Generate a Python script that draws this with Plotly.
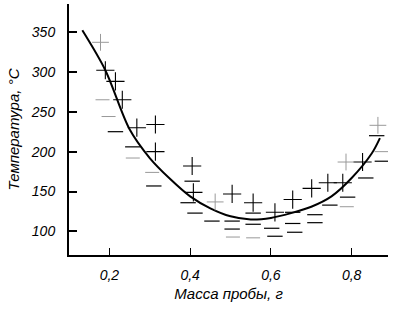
import plotly.graph_objects as go

# Fitted curve
curve_mass = [0.133, 0.19, 0.25, 0.30, 0.35, 0.40, 0.45, 0.50, 0.55, 0.60, 0.65, 0.70, 0.75, 0.80, 0.85, 0.87]
curve_temp = [352, 302, 228, 192, 166, 144, 129, 119, 115, 117, 123, 131, 144, 167, 198, 217]

# "+" measurements
plus_mass = [0.19, 0.215, 0.232, 0.268, 0.314, 0.314, 0.405, 0.408, 0.504, 0.556, 0.61,
             0.654, 0.701, 0.741, 0.778, 0.827]
plus_temp = [302, 288, 265, 230, 234, 200, 182, 149, 147, 136, 124,
             140, 154, 161, 161, 187]
plus_faint_mass = [0.178, 0.462, 0.786, 0.865]
plus_faint_temp = [337, 137, 187, 233]

# "−" measurements
minus_mass = [0.215, 0.258, 0.31, 0.405, 0.395, 0.412, 0.454, 0.504, 0.504, 0.556, 0.556,
              0.602, 0.61, 0.654, 0.654, 0.659, 0.709, 0.709, 0.746, 0.79, 0.835, 0.862, 0.876]
minus_temp = [225, 206, 157, 163, 136, 123, 113, 113, 103, 123, 109,
              104, 94, 124, 110, 99, 121, 111, 133, 143, 167, 220, 188]
minus_faint_mass = [0.183, 0.198, 0.258, 0.306, 0.506, 0.556, 0.788, 0.874]
minus_faint_temp = [265, 244, 192, 174, 93, 92, 131, 200]

x_ticks = [0.2, 0.4, 0.6, 0.8]
x_tick_text = ["0,2", "0,4", "0,6", "0,8"]
y_ticks = [100, 150, 200, 250, 300, 350]

FONT = "Liberation Sans Narrow, Liberation Sans, DejaVu Sans"

fig = go.Figure()

fig.add_trace(go.Scatter(x=curve_mass, y=curve_temp, mode="lines",
                         line=dict(color="black", width=2, shape="spline", smoothing=0.9)))

fig.add_trace(go.Scatter(x=plus_mass, y=plus_temp, mode="markers",
                         marker=dict(symbol="cross-thin", size=13,
                                     line=dict(color="black", width=1.1))))
fig.add_trace(go.Scatter(x=plus_faint_mass, y=plus_faint_temp, mode="markers",
                         marker=dict(symbol="cross-thin", size=12,
                                     line=dict(color="#999", width=1))))
fig.add_trace(go.Scatter(x=minus_mass, y=minus_temp, mode="markers",
                         marker=dict(symbol="line-ew", size=11,
                                     line=dict(color="black", width=1.2))))
fig.add_trace(go.Scatter(x=minus_faint_mass, y=minus_faint_temp, mode="markers",
                         marker=dict(symbol="line-ew", size=10,
                                     line=dict(color="#999", width=1))))

fig.update_layout(
    width=415, height=334,
    margin=dict(l=69, r=27, t=4, b=79),
    plot_bgcolor="white", paper_bgcolor="white",
    showlegend=False,
    font=dict(family=FONT, color="black", size=13, style="italic"),
)

fig.update_xaxes(
    range=[0.1, 0.89], showgrid=False, zeroline=False,
    showline=True, linecolor="black", linewidth=1.5,
    ticks="inside", ticklen=7, tickwidth=1.3, tickcolor="black",
    tickvals=x_ticks, ticktext=x_tick_text, ticklabelstandoff=6,
    tickfont=dict(family=FONT, size=14, style="italic"),
    title=dict(text="Масса пробы, г", standoff=7,
               font=dict(family=FONT, size=15, style="italic")),
)
fig.update_yaxes(
    range=[70.5, 385], showgrid=False, zeroline=False,
    showline=True, linecolor="black", linewidth=2,
    ticks="inside", ticklen=8, tickwidth=1.5, tickcolor="black",
    tickvals=y_ticks, ticklabelstandoff=9,
    tickfont=dict(family=FONT, size=14, style="italic"),
    title=dict(text="Температура, °С", standoff=8,
               font=dict(family=FONT, size=15, style="italic")),
)

fig.write_html("out.html")
